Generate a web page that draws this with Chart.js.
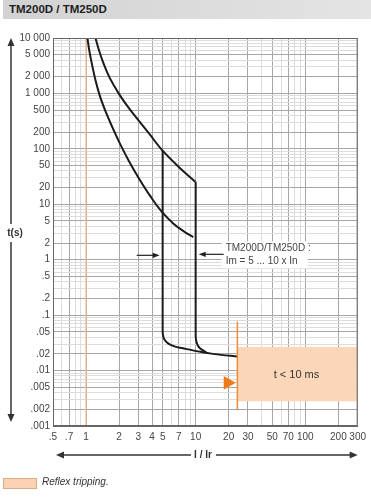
<!DOCTYPE html>
<html>
<head>
<meta charset="utf-8">
<script src="https://cdn.jsdelivr.net/npm/chart.js@4.4.1/dist/chart.umd.min.js"></script>
<style>
  html, body { margin: 0; padding: 0; background: #fff; }
  body { width: 371px; height: 499px; position: relative; overflow: hidden; font-family: "Liberation Sans", Arial, sans-serif; }
  #grafico { position: absolute; left: 0; top: 0; }
  #titulo { position: absolute; left: 3px; top: 0; width: 368px; height: 19px; background: linear-gradient(to right, #d2d2d2, #e4e4e4); }
  #titulo span { position: absolute; left: 6px; top: 3px; font-weight: bold; font-size: 11.5px; color: #1e1e1e; }
  #legenda-cor { position: absolute; left: 3px; top: 478px; width: 32px; height: 9px; background: #fcd3b2; border: 1px solid #dcae88; }
  #legenda-txt { position: absolute; left: 42px; top: 476px; font-style: italic; font-size: 10px; color: #333; }
</style>
</head>
<body>
<div id="titulo"><span>TM200D / TM250D</span></div>
<canvas id="grafico" width="371" height="499"></canvas>
<div id="legenda-cor"></div>
<div id="legenda-txt">Reflex tripping.</div>
<script>
// ----- Eixos -----
const xTickValues = [0.5, 0.7, 1, 2, 3, 4, 5, 7, 10, 20, 30, 50, 70, 100, 200, 300];
const xTickLabels = ['.5', '.7', '1', '2', '3', '4', '5', '7', '10', '20', '30', '50', '70', '100', '200', '300'];
const yTickValues = [10000, 5000, 2000, 1000, 500, 200, 100, 50, 20, 10, 5, 2, 1, 0.5, 0.2, 0.1, 0.05, 0.02, 0.01, 0.005, 0.002, 0.001];
const yTickLabels = ['10 000', '5 000', '2 000', '1 000', '500', '200', '100', '50', '20', '10', '5', '2', '1', '.5', '.2', '.1', '.05', '.02', '.01', '.005', '.002', '.001'];

// ----- Curva térmica inferior -----
const curvaInfI = [1.03, 1.068, 1.125, 1.217, 1.335, 1.511, 1.747, 2.06, 2.48, 3.05, 3.83, 4.9, 6.28, 7.88, 9.5];
const curvaInfT = [10000, 6180, 3600, 1775, 913, 469, 241, 119, 58.7, 29.0, 14.3, 7.35, 4.47, 3.2, 2.55];

// ----- Curva térmica superior -----
const curvaSupI = [1.22, 1.308, 1.435, 1.641, 2.018, 2.48, 3.05, 3.83, 4.9, 6.97, 9.9];
const curvaSupT = [10000, 6180, 3600, 1930, 951, 532, 316, 180, 96.8, 47.7, 25.6];

// ----- Magnético Im = 5 x In -----
const magEsqI = [5, 5, 5.03, 5.15, 5.6, 6.5, 7.5, 10.5, 15, 23.9];
const magEsqT = [94, 0.052, 0.044, 0.037, 0.031, 0.027, 0.0255, 0.0222, 0.0198, 0.018];

// ----- Magnético Im = 10 x In -----
const magDirI = [10, 10, 10.1, 10.4, 11, 12.5];
const magDirT = [25.6, 0.043, 0.035, 0.029, 0.025, 0.0213];

// ----- Reflex tripping -----
const reflexI = [24, 300];
const reflexTopo = [0.0266, 0.0266];
const reflexBase = [0.0028, 0.0028];
const reflexLinhaI = [24, 24];
const reflexLinhaT = [0.077, 0.002];
const setaReflexI = [19.6];
const setaReflexT = [0.006];

// ----- Linha Ir -----
const linhaIrI = [1, 1];
const linhaIrT = [0.001, 10000];

// posição dos textos
const textoReflex = { i: 83, t: 0.0082, txt: 't < 10 ms' };
const textoIm = ['TM200D/TM250D :', 'Im = 5 ... 10 x In'];

function pares(xs, ys) {
  return xs.map((v, k) => ({ x: v, y: ys[k] }));
}

// todas as linhas da grade (1..9 em cada década)
function linhasGrade(min, max) {
  const lista = [];
  for (let d = -4; d <= 4; d++) {
    for (let m = 1; m <= 9; m++) {
      const v = m * Math.pow(10, d);
      if (v >= min * 0.999 && v <= max * 1.001) lista.push(v);
    }
  }
  return lista;
}

function achaRotulo(valores, rotulos, v) {
  const k = valores.findIndex(a => Math.abs(a - v) / a < 1e-6);
  return k >= 0 ? rotulos[k] : '';
}

function seta(ctx, x1, y1, x2, y2, tam, larg) {
  const ang = Math.atan2(y2 - y1, x2 - x1);
  ctx.beginPath();
  ctx.moveTo(x1, y1);
  ctx.lineTo(x2 - Math.cos(ang) * tam * 0.8, y2 - Math.sin(ang) * tam * 0.8);
  ctx.stroke();
  ctx.beginPath();
  ctx.moveTo(x2, y2);
  ctx.lineTo(x2 - Math.cos(ang) * tam - Math.sin(ang) * larg, y2 - Math.sin(ang) * tam + Math.cos(ang) * larg);
  ctx.lineTo(x2 - Math.cos(ang) * tam + Math.sin(ang) * larg, y2 - Math.sin(ang) * tam - Math.cos(ang) * larg);
  ctx.closePath();
  ctx.fill();
}

const decoracoes = {
  id: 'decoracoes',
  afterDraw(chart) {
    const { ctx, chartArea: a, scales: { x, y } } = chart;
    ctx.save();

    // moldura
    ctx.strokeStyle = '#666';
    ctx.lineWidth = 1;
    ctx.strokeRect(a.left + 0.5, a.top + 0.5, a.right - a.left - 1, a.bottom - a.top - 1);

    // texto Im
    const px5 = x.getPixelForValue(5);
    const px10 = x.getPixelForValue(10);
    const pyS = y.getPixelForValue(1.2);
    ctx.fillStyle = '#fff';
    ctx.fillRect(px10 + 26, pyS - 14, 86, 27);
    ctx.fillStyle = '#444';
    ctx.font = '10px "Liberation Sans", Arial, sans-serif';
    ctx.textAlign = 'left';
    ctx.textBaseline = 'middle';
    ctx.fillText(textoIm[0], px10 + 30, pyS - 7);
    ctx.fillText(textoIm[1], px10 + 30, pyS + 6);

    // setas de Im
    ctx.strokeStyle = '#222';
    ctx.fillStyle = '#222';
    ctx.lineWidth = 1.2;
    seta(ctx, px5 - 26, pyS, px5 - 3, pyS, 7, 2.6);
    seta(ctx, px10 + 28, pyS - 1, px10 + 3, pyS - 1, 7, 2.6);

    // texto t < 10 ms
    ctx.fillStyle = '#333';
    ctx.font = '11px "Liberation Sans", Arial, sans-serif';
    ctx.textAlign = 'center';
    ctx.fillText(textoReflex.txt, x.getPixelForValue(textoReflex.i), y.getPixelForValue(textoReflex.t));

    // eixo t(s)
    ctx.strokeStyle = '#333';
    ctx.fillStyle = '#333';
    ctx.lineWidth = 1.5;
    const ex = 11;
    const meioY = (a.top + a.bottom) / 2 + 1;
    seta(ctx, ex, meioY - 9, ex, a.top, 8, 3.5);
    seta(ctx, ex, meioY + 9, ex, a.bottom - 4, 8, 3.5);
    ctx.font = 'bold 10px "Liberation Sans", Arial, sans-serif';
    ctx.textAlign = 'center';
    ctx.fillText('t(s)', 15, meioY);

    // eixo I / Ir
    const ey = 455;
    const meioX = 203;
    seta(ctx, meioX - 12, ey, a.left + 3, ey, 8, 3.5);
    seta(ctx, meioX + 13, ey, a.right, ey, 8, 3.5);
    ctx.fillText('I / Ir', meioX, ey);

    ctx.restore();
  }
};

const gradeX = linhasGrade(0.5, 300);
const gradeY = linhasGrade(0.001, 10000);

const corCurva = '#1b1b1b';

new Chart(document.getElementById('grafico'), {
  type: 'scatter',
  data: {
    datasets: [
      {
        data: pares(reflexI, reflexTopo),
        showLine: true, borderWidth: 0, pointRadius: 0,
        backgroundColor: '#fcd6b8', fill: '+1', order: 10
      },
      {
        data: pares(reflexI, reflexBase),
        showLine: true, borderWidth: 0, pointRadius: 0, order: 10
      },
      {
        data: pares(linhaIrI, linhaIrT),
        showLine: true, borderColor: '#f3b88a', borderWidth: 1.2, pointRadius: 0, order: 9
      },
      {
        data: pares(curvaInfI, curvaInfT),
        showLine: true, borderColor: corCurva, borderWidth: 2, pointRadius: 0,
        tension: 0.4, order: 2
      },
      {
        data: pares(curvaSupI, curvaSupT),
        showLine: true, borderColor: corCurva, borderWidth: 2, pointRadius: 0,
        tension: 0.4, order: 2
      },
      {
        data: pares(magEsqI, magEsqT),
        showLine: true, borderColor: corCurva, borderWidth: 2, pointRadius: 0,
        tension: 0.25, order: 2
      },
      {
        data: pares(magDirI, magDirT),
        showLine: true, borderColor: corCurva, borderWidth: 2, pointRadius: 0,
        tension: 0.25, order: 2
      },
      {
        data: pares(reflexLinhaI, reflexLinhaT),
        showLine: true, borderColor: '#f0893a', borderWidth: 1.5, pointRadius: 0, order: 1
      },
      {
        data: pares(setaReflexI, setaReflexT),
        pointStyle: 'triangle', rotation: 90, pointRadius: 8,
        backgroundColor: '#f07a1a', borderColor: '#f07a1a', borderWidth: 0, order: 0
      }
    ]
  },
  options: {
    responsive: false,
    animation: false,
    layout: { padding: { left: 0, top: 38, right: 9, bottom: 53 } },
    plugins: {
      legend: { display: false },
      tooltip: { enabled: false }
    },
    scales: {
      x: {
        type: 'logarithmic',
        min: 0.5,
        max: 300,
        afterFit: s => { s.height = 20; },
        afterBuildTicks: s => { s.ticks = gradeX.map(v => ({ value: v })); },
        grid: {
          drawTicks: false,
          color: c => achaRotulo(xTickValues, xTickLabels, c.tick.value) ? '#a6a6a6' : '#dcdcdc',
          lineWidth: 1
        },
        border: { display: true, color: '#666' },
        ticks: {
          autoSkip: false,
          maxRotation: 0,
          minRotation: 0,
          padding: 5,
          color: '#444',
          font: { family: '"Liberation Sans", Arial, sans-serif', size: 10 },
          callback: v => achaRotulo(xTickValues, xTickLabels, v)
        }
      },
      y: {
        type: 'logarithmic',
        min: 0.001,
        max: 10000,
        afterFit: s => { s.width = 53; },
        afterBuildTicks: s => { s.ticks = gradeY.map(v => ({ value: v })); },
        grid: {
          drawTicks: false,
          color: c => achaRotulo(yTickValues, yTickLabels, c.tick.value) ? '#a6a6a6' : '#dcdcdc',
          lineWidth: 1
        },
        border: { display: true, color: '#666' },
        ticks: {
          autoSkip: false,
          padding: 3,
          color: '#444',
          font: { family: '"Liberation Sans", Arial, sans-serif', size: 10 },
          callback: v => achaRotulo(yTickValues, yTickLabels, v)
        }
      }
    }
  },
  plugins: [decoracoes]
});
</script>
</body>
</html>
